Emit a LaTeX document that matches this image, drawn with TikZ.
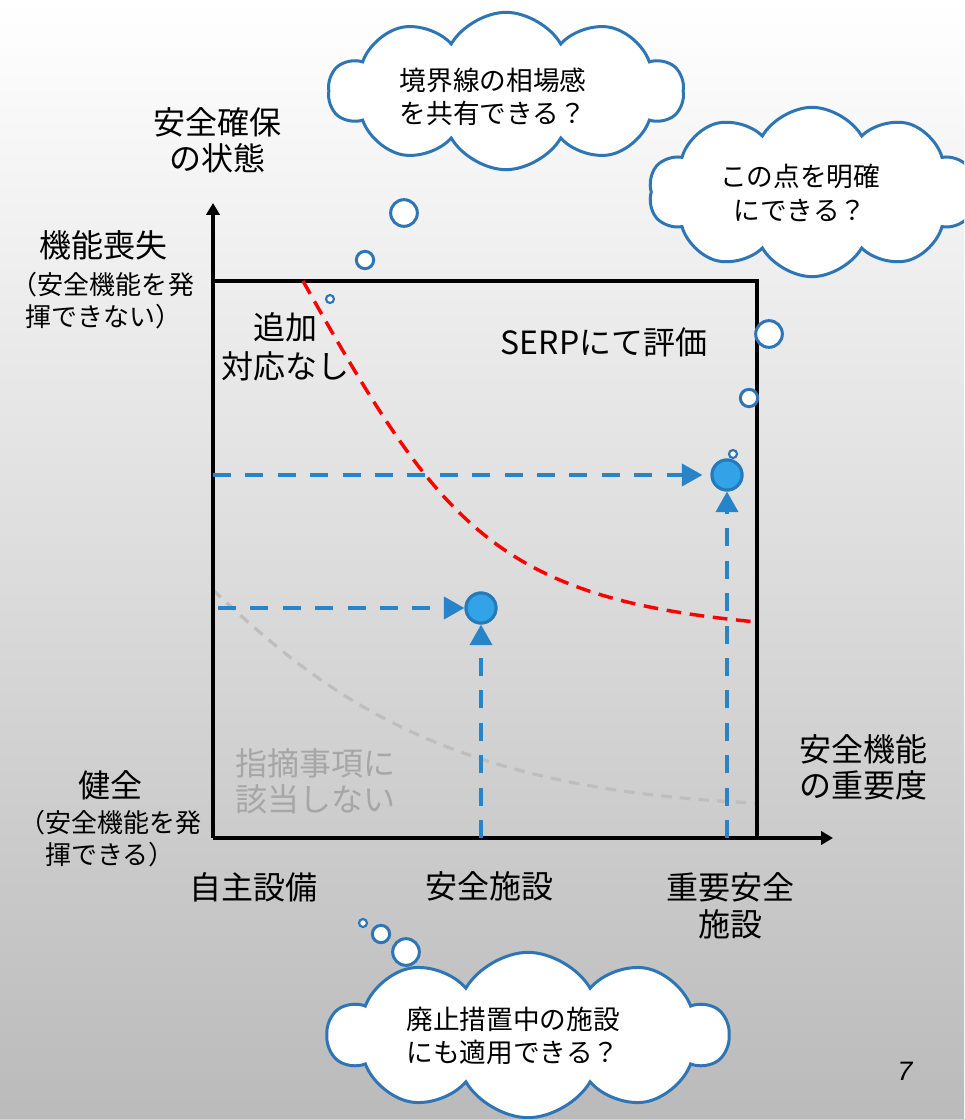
\documentclass[tikz,border=0pt]{standalone}
\usepackage{fontspec}
\setmainfont{Noto Sans CJK JP}
\newfontfamily\numfont{Liberation Sans}
\usetikzlibrary{shapes.symbols,arrows.meta}
\definecolor{cloudblue}{RGB}{46,117,182}
\definecolor{arrowblue}{RGB}{40,132,200}
\definecolor{dotfill}{RGB}{51,163,232}
\definecolor{dotline}{RGB}{37,122,186}
\definecolor{graytext}{RGB}{166,166,166}
\definecolor{graycurve}{RGB}{190,190,190}
\tikzset{
  axis/.style={line width=3pt, -{Triangle[length=9pt,width=10pt]}},
  boxline/.style={line width=3pt},
  bigtxt/.style={font=\fontsize{24pt}{27pt}\selectfont, align=center, inner sep=0},
  smalltxt/.style={font=\fontsize{19.5pt}{24pt}\selectfont, align=center, inner sep=0},
  cloudtxt/.style={font=\fontsize{20pt}{25pt}\selectfont, align=center, inner sep=0},
  thought/.style={cloud, cloud puffs=10, cloud puff arc=120, aspect=2.3, draw=cloudblue, line width=2.25pt, fill=white, inner sep=0},
  bubble/.style={circle, draw=cloudblue, line width=2.25pt, fill=white, inner sep=0},
  dot/.style={circle, draw=dotline, line width=2.25pt, fill=dotfill, minimum size=22.5pt, inner sep=0},
  bluedash/.style={draw=arrowblue, line width=3pt, dash pattern=on 13.5pt off 10.8pt, -{Triangle[length=15.5pt,width=16.5pt]}},
  reddash/.style={draw=red, line width=2.6pt, dash pattern=on 11pt off 6.5pt},
  graydash/.style={draw=graycurve, line width=2.4pt, dash pattern=on 8pt off 6pt},
}
\begin{document}
\begin{tikzpicture}[x=0.75pt, y=-0.75pt]
\useasboundingbox (0,0) rectangle (964,1119);
\clip (0,0) rectangle (964,1119);
\shade[top color=white, bottom color=black!27] (0,0) rectangle (964,1119);

% coordinates
\coordinate (O) at (213,838);
\coordinate (ytip) at (213,203);
\coordinate (xtip) at (833,838);
\coordinate (tl) at (213,281);
\coordinate (tr) at (757,281);
\coordinate (br) at (757,838);
\coordinate (r0) at (303,281);
\coordinate (r1) at (757,622);
\coordinate (g0) at (213,590);
\coordinate (g1) at (757,803);

% gray curve
\draw[graydash] (g0) .. controls (330,700) and (450,790) .. (g1);

% box and axes
\draw[boxline] (tl) -- (tr) -- (br);
\draw[axis] (O) -- (ytip);
\draw[axis] (O) -- (xtip);

% red curve
\draw[reddash] (r0) .. controls (440,525) and (495,598) .. (r1);

% points and arrows
\node[dot] (p1) at (481,608) {};
\node[dot] (p2) at (727,475) {};
\coordinate (h1) at (218,608);
\coordinate (v1) at (481,838);
\coordinate (h2) at (213,475);
\coordinate (v2) at (727,838);
\draw[bluedash] (h1) -- (p1);
\draw[bluedash] (v1) -- (p1);
\draw[bluedash, shorten >=6pt] (h2) -- (p2);
\draw[bluedash] (v2) -- (p2);
\node[dot] at (p1) {};
\node[dot] at (p2) {};

% labels
\node[bigtxt] (ylab) at (217,140) {安全確保\\の状態};
\node[bigtxt] (ytop) at (103,245) {機能喪失};
\node[smalltxt] (ytopsub) at (103,301) {（安全機能を発\\揮できない）};
\node[bigtxt] (ybot) at (110,785) {健全};
\node[smalltxt] (ybotsub) at (110,839) {（安全機能を発\\揮できる）};
\node[bigtxt] (x1) at (253,887) {自主設備};
\node[bigtxt] (x2) at (489,886) {安全施設};
\node[bigtxt] (x3) at (730,906) {重要安全\\[1pt]施設};
\node[bigtxt] (xlab) at (863,767) {安全機能\\の重要度};
\node[bigtxt] (noadd) at (285,347) {追加\\[2pt]対応なし};
\node[bigtxt] (serp) at (604,342) {SERPにて評価};
\node[bigtxt, text=graytext] (nothit) at (315,781) {指摘事項に\\該当しない};
\node[inner sep=0, font=\numfont\itshape\fontsize{20pt}{24pt}\selectfont] (pg) at (905,1071) {7};

% clouds
\node[thought, minimum width=266pt, minimum height=118pt] (cl1) at (506,91) {};
\node[cloudtxt] (t1) at (493,97) {境界線の相場感\\を共有できる？};
\node[thought, minimum width=245pt, minimum height=127pt] (cl2) at (812,192) {};
\node[cloudtxt] (t2) at (800,193) {この点を明確\\にできる？};
\node[thought, minimum width=300pt, minimum height=124pt] (cl3) at (528,1035) {};
\node[cloudtxt] (t3) at (513,1036) {廃止措置中の施設\\にも適用できる？};

% bubbles
\node[bubble, minimum size=20pt] (b1a) at (404,213) {};
\node[bubble, minimum size=13pt] (b1b) at (365,260) {};
\node[bubble, minimum size=6pt, line width=1.6pt] (b1c) at (330,299) {};
\node[bubble, minimum size=20pt] (b2a) at (769,334) {};
\node[bubble, minimum size=13pt] (b2b) at (749,398) {};
\node[bubble, minimum size=6pt, line width=1.6pt] (b2c) at (733,454) {};
\node[bubble, minimum size=20pt] (b3a) at (406,952) {};
\node[bubble, minimum size=13pt] (b3b) at (381,934) {};
\node[bubble, minimum size=6pt, line width=1.6pt] (b3c) at (363,923) {};
\end{tikzpicture}
\end{document}
